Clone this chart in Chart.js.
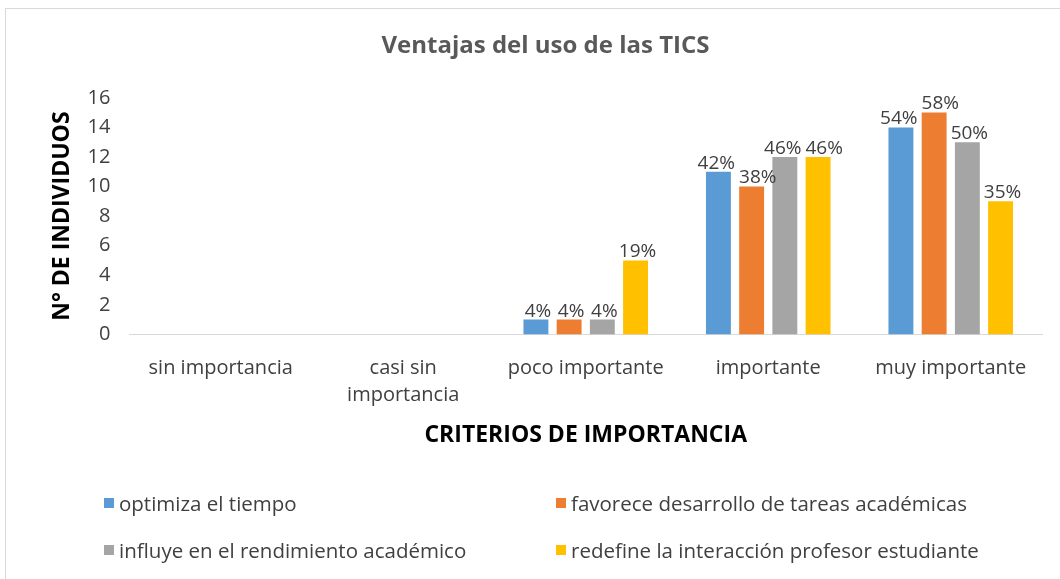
<!DOCTYPE html>
<html>
<head>
<meta charset="utf-8">
<script src="https://cdn.jsdelivr.net/npm/chart.js@4"></script>
<style>
  html, body { margin: 0; padding: 0; background: #fff; overflow: hidden; }
  #wrap { position: relative; width: 1060px; height: 579px; }
  #frame { position: absolute; left: 5px; top: 8px; width: 1070px; height: 590px;
           border: 1px solid #d9d9d9; box-sizing: border-box; }
  #legend { position: absolute; left: 104px; top: 489px; width: 940px;
            display: grid; grid-template-columns: 452px 480px; row-gap: 19px;
            font-family: "Open Sans", sans-serif; font-size: 20.5px; color: #404040; }
  #legend div { display: flex; align-items: center; white-space: nowrap; }
  #legend span.box { width: 10px; height: 10px; margin-right: 5px; display: inline-block; }
</style>
</head>
<body>
<div id="wrap">
  <div id="frame"></div>
  <canvas id="ticsChart" width="1060" height="579"></canvas>
  <div id="legend"></div>
</div>
<script>
// Ventajas del uso de las TICS
const categories = ["sin importancia", ["casi sin", "importancia"], "poco importante", "importante", "muy importante"];
const seriesNames = [
    "optimiza el tiempo",
    "favorece desarrollo de tareas académicas",
    "influye en el rendimiento académico",
    "redefine la interacción profesor estudiante",
];
const optimiza = [0, 0, 1, 11, 14];
const favorece = [0, 0, 1, 10, 15];
const influye = [0, 0, 1, 12, 13];
const redefine = [0, 0, 5, 12, 9];
const optimizaPct = ["", "", "4%", "42%", "54%"];
const favorecePct = ["", "", "4%", "38%", "58%"];
const influyePct = ["", "", "4%", "46%", "50%"];
const redefinePct = ["", "", "19%", "46%", "35%"];
const yTicks = [0, 2, 4, 6, 8, 10, 12, 14, 16];

const colors = ["#5b9bd5", "#ed7d31", "#a5a5a5", "#ffc000"];
const values = [optimiza, favorece, influye, redefine];
const pcts = [optimizaPct, favorecePct, influyePct, redefinePct];

Chart.defaults.font.family = '"Open Sans", sans-serif';

// percentage labels above the bars, pushed apart when two of them collide
const barLabels = {
    id: "barLabels",
    afterDatasetsDraw(chart) {
        const ctx = chart.ctx;
        ctx.save();
        ctx.font = '19px "Open Sans", sans-serif';
        ctx.fillStyle = "#404040";
        ctx.textAlign = "center";
        ctx.textBaseline = "bottom";
        const n = chart.data.labels.length;
        for (let j = 0; j < n; j++) {
            const items = [];
            chart.data.datasets.forEach((ds, i) => {
                const t = ds.pctLabels[j];
                if (!t) return;
                const bar = chart.getDatasetMeta(i).data[j];
                items.push({ t, x: bar.x + 2, y: bar.y + 1, w: ctx.measureText(t).width });
            });
            for (let k = 1; k < items.length; k++) {
                const a = items[k - 1], b = items[k];
                const overlap = (a.x + a.w / 2) - (b.x - b.w / 2) + 4;
                if (overlap > 0 && Math.abs(a.y - b.y) < 20) {
                    a.x -= overlap / 2;
                    b.x += overlap / 2;
                }
            }
            items.forEach((it) => ctx.fillText(it.t, it.x, it.y));
        }
        ctx.restore();
    },
};

const ctx = document.getElementById("ticsChart").getContext("2d");
const chart = new Chart(ctx, {
    type: "bar",
    data: {
        labels: categories,
        datasets: seriesNames.map((name, i) => ({
            label: name,
            data: values[i],
            pctLabels: pcts[i],
            backgroundColor: colors[i],
            categoryPercentage: 0.728,
            barPercentage: 0.75,
        })),
    },
    options: {
        responsive: false,
        animation: false,
        layout: {
            padding: { top: 14, left: 49, right: 18, bottom: 126 },
        },
        scales: {
            y: {
                min: 0,
                max: 16,
                afterBuildTicks: (axis) => {
                    axis.ticks = yTicks.map((v) => ({ value: v }));
                },
                grid: { display: false },
                border: { display: false },
                ticks: { color: "#404040", font: { size: 20 }, padding: 11 },
                title: {
                    display: true,
                    text: "N° DE INDIVIDUOS",
                    color: "#000",
                    font: { size: 23, weight: "bold" },
                    padding: 0,
                },
            },
            x: {
                grid: { display: false },
                border: { color: "#d9d9d9" },
                ticks: {
                    color: "#404040",
                    font: { size: 20, lineHeight: 1.35 },
                    padding: 12,
                    maxRotation: 0,
                },
                title: {
                    display: true,
                    text: "CRITERIOS DE IMPORTANCIA",
                    color: "#000",
                    font: { size: 23, weight: "bold" },
                    padding: { top: 1 },
                },
            },
        },
        plugins: {
            legend: { display: false },
            tooltip: { enabled: false },
            title: {
                display: true,
                text: "Ventajas del uso de las TICS",
                color: "#595959",
                font: { size: 24, weight: "bold" },
                padding: { top: 18, bottom: 37 },
            },
        },
    },
    plugins: [barLabels],
});

// two-column legend like the original
const legendEl = document.getElementById("legend");
chart.data.datasets.forEach((ds) => {
    const item = document.createElement("div");
    const box = document.createElement("span");
    box.className = "box";
    box.style.background = ds.backgroundColor;
    item.appendChild(box);
    item.appendChild(document.createTextNode(ds.label));
    legendEl.appendChild(item);
});
</script>
</body>
</html>
